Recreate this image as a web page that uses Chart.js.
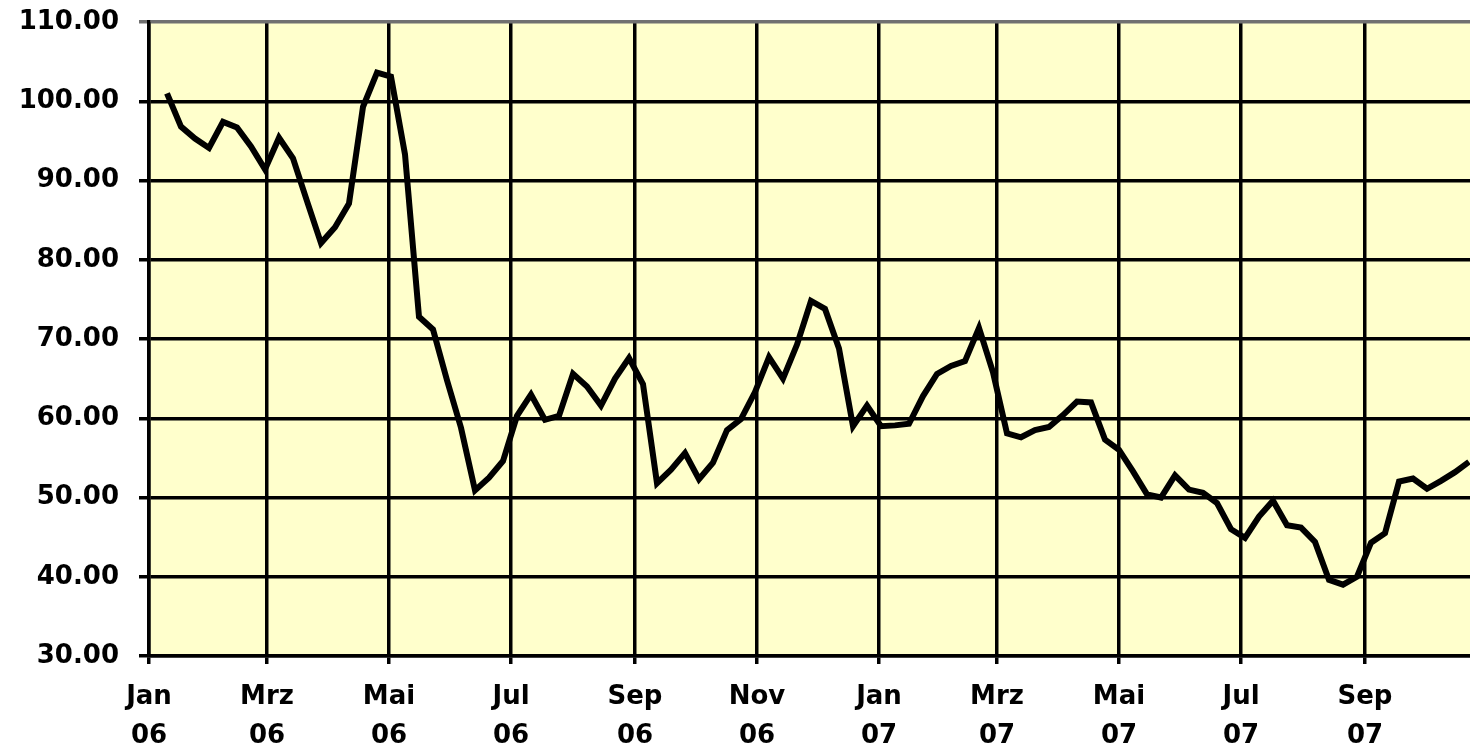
<!DOCTYPE html>
<html>
<head>
<meta charset="utf-8">
<script src="https://cdn.jsdelivr.net/npm/chart.js@4"></script>
<style>
  body { margin: 0; background: #fff; }
  canvas { display: block; }
</style>
</head>
<body>
<canvas id="priceChart" width="1470" height="746"></canvas>
<script>
// weekly closing values, first week starts 10 Jan 2006
const startDate = "2006-01-10";
const weeklyValues = [
  101.0, 96.8, 95.3, 94.1, 97.4, 96.7, 94.3, 91.4, 95.4, 92.8,
  87.4, 82.1, 84.1, 87.1, 99.3, 103.6, 103.1, 93.3, 72.8, 71.2,
  64.8, 58.8, 50.9, 52.5, 54.6, 60.3, 63.0, 59.8, 60.3, 65.6,
  64.0, 61.6, 65.0, 67.6, 64.3, 51.8, 53.5, 55.6, 52.3, 54.4,
  58.5, 59.9, 63.3, 67.7, 65.0, 69.3, 74.8, 73.8, 68.8, 59.0,
  61.6, 59.0, 59.1, 59.3, 62.8, 65.6, 66.6, 67.2, 71.4, 65.8,
  58.1, 57.6, 58.5, 58.9, 60.4, 62.1, 62.0, 57.3, 56.0, 53.3,
  50.4, 50.0, 52.8, 51.0, 50.6, 49.3, 46.0, 44.9, 47.6, 49.6,
  46.5, 46.2, 44.4, 39.6, 39.0, 40.0, 44.3, 45.5, 52.0, 52.4,
  51.1, 52.1, 53.2, 54.5
];

// month gridlines and their two-line labels
const tickDates = [
  "2006-01-01", "2006-03-01", "2006-05-01", "2006-07-01", "2006-09-01", "2006-11-01",
  "2007-01-01", "2007-03-01", "2007-05-01", "2007-07-01", "2007-09-01"
];
const tickLabels = [
  ["Jan", "06"], ["Mrz", "06"], ["Mai", "06"], ["Jul", "06"], ["Sep", "06"], ["Nov", "06"],
  ["Jan", "07"], ["Mrz", "07"], ["Mai", "07"], ["Jul", "07"], ["Sep", "07"]
];

const DAY = 24 * 60 * 60 * 1000;
const origin = Date.parse("2006-01-01");
const dayOf = (s) => Math.round((Date.parse(s) - origin) / DAY);

const firstDay = dayOf(startDate);
const points = weeklyValues.map((v, i) => ({ x: firstDay + i * 7, y: v }));

const plotBackground = {
  id: "plotBackground",
  beforeDraw(chart) {
    const { ctx, chartArea } = chart;
    ctx.save();
    ctx.fillStyle = "#FFFFCC";
    ctx.fillRect(chartArea.left, chartArea.top, chartArea.right - chartArea.left, chartArea.bottom - chartArea.top);
    ctx.restore();
  },
};

const labelFont = { family: "'DejaVu Sans', sans-serif", size: 26, weight: "bold", lineHeight: 1.52 };

const ctx = document.getElementById("priceChart").getContext("2d");
new Chart(ctx, {
  type: "line",
  data: {
    datasets: [
      {
        data: points,
        borderColor: "#000",
        borderWidth: 6,
        pointRadius: 0,
        tension: 0,
        fill: false,
      },
    ],
  },
  options: {
    responsive: false,
    animation: false,
    layout: { padding: { top: 22, right: 0, left: 0, bottom: 0 } },
    plugins: { legend: { display: false }, tooltip: { enabled: false } },
    scales: {
      x: {
        type: "linear",
        min: 0,
        max: 660.5,
        afterBuildTicks: (scale) => {
          scale.ticks = tickDates.map((d) => ({ value: dayOf(d) }));
        },
        afterFit: (scale) => {
          scale.height = 90;
          scale.paddingLeft = 0;
          scale.paddingRight = 0;
        },
        ticks: {
          autoSkip: false,
          maxRotation: 0,
          color: "#000",
          font: labelFont,
          padding: 13,
          callback: (value, index) => tickLabels[index],
        },
        grid: { color: "#000", lineWidth: 3.5, tickLength: 8 },
        border: { color: "#000", width: 3.5 },
      },
      y: {
        min: 30,
        max: 110,
        afterFit: (scale) => {
          scale.width = 149;
          scale.paddingTop = 0;
          scale.paddingBottom = 0;
        },
        ticks: {
          stepSize: 10,
          color: "#000",
          font: labelFont,
          padding: 20,
          callback: (v) => v.toFixed(2),
        },
        grid: {
          color: (c) => (c.tick && c.tick.value === 110 ? "#707070" : "#000"),
          lineWidth: 3.5,
          tickLength: 10,
        },
        border: { color: "#000", width: 3.5 },
      },
    },
  },
  plugins: [plotBackground],
});
</script>
</body>
</html>
